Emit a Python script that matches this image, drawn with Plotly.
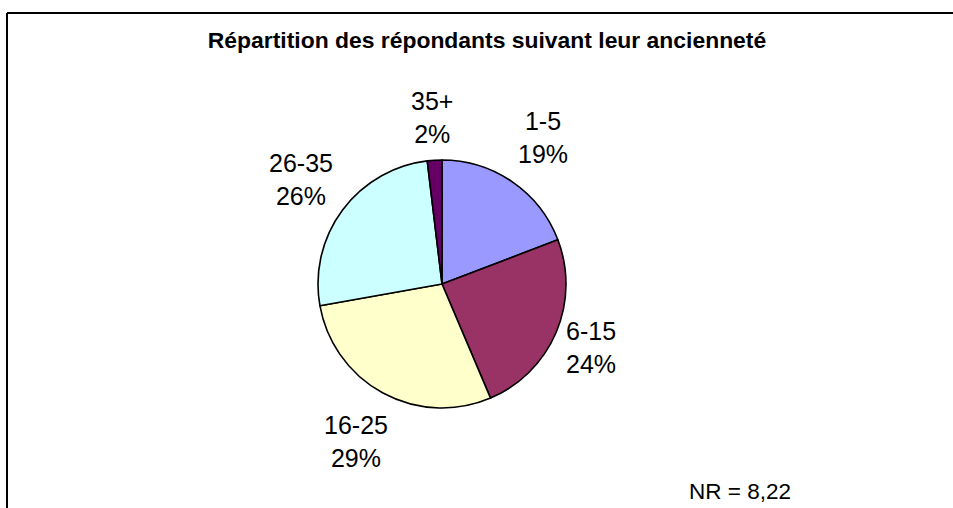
import math
import plotly.graph_objects as go

categories = ["1-5", "6-15", "16-25", "26-35", "35+"]
values = [19.2, 24.4, 28.6, 25.9, 1.9]
colors = ["#9999FF", "#993366", "#FFFFCC", "#CCFFFF", "#660066"]
title_text = "Répartition des répondants suivant leur ancienneté"
note_text = "NR = 8,22"

# label distance from the pie centre, in pie radii (layout setting)
label_radius = [1.43, 1.303, 1.448, 1.415, 1.348]

W, H = 953, 508
cx, cy, R = 442, 284, 124  # pie centre / radius in pixels

FONT = "Arial, Liberation Sans, sans-serif"

fig = go.Figure()
fig.add_trace(go.Pie(
    labels=categories, values=values, sort=False, direction="clockwise",
    rotation=0, textinfo="none", hoverinfo="label+percent",
    marker=dict(colors=colors, line=dict(color="#000000", width=1.6)),
    domain=dict(x=[(cx - R) / W, (cx + R) / W],
                y=[(H - cy - R) / H, (H - cy + R) / H]),
    showlegend=False,
))

total = sum(values)
cum = 0
annotations = []
for cat, v, k in zip(categories, values, label_radius):
    mid = (cum + v / 2) / total * 2 * math.pi
    cum += v
    ux, uy = math.sin(mid), -math.cos(mid)
    d = R * k
    px, py = cx + ux * d, cy + uy * d
    annotations.append(dict(
        x=px / W, y=1 - py / H, xref="paper", yref="paper",
        text=f"{cat}<br>{round(v / total * 100)}%", showarrow=False,
        xanchor="center", yanchor="middle",
        font=dict(family=FONT, size=25, color="#000000"),
    ))

annotations.append(dict(
    x=739.5 / W, y=1 - 491 / H, xref="paper", yref="paper",
    text=note_text, showarrow=False, xanchor="center", yanchor="middle",
    font=dict(family=FONT, size=22.5, color="#000000"),
))

fig.update_layout(
    width=W, height=H,
    margin=dict(l=0, r=0, t=0, b=0),
    paper_bgcolor="#FFFFFF", plot_bgcolor="#FFFFFF",
    title=dict(text=f"<b>{title_text}</b>", x=487 / W,
               y=1 - 40 / H, xanchor="center", yanchor="middle",
               font=dict(family=FONT, size=22.9, color="#000000")),
    annotations=annotations,
    shapes=[
        dict(type="line", xref="paper", yref="paper", x0=7 / W, x1=1.02,
             y0=1 - 13 / H, y1=1 - 13 / H,
             line=dict(color="#000000", width=2)),
        dict(type="line", xref="paper", yref="paper", x0=7 / W, x1=7 / W,
             y0=1 - 13 / H, y1=-0.05,
             line=dict(color="#000000", width=2)),
    ],
)

fig.write_html(
    "out.html",
    config={"displayModeBar": False},
    post_script="document.body.style.margin='0';"
                "document.documentElement.style.overflow='hidden';",
)
